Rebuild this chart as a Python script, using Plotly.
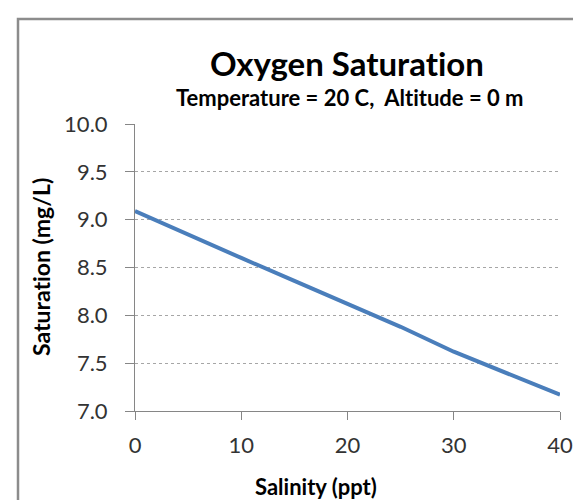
import plotly.graph_objects as go

salinity = [0, 5, 10, 15, 20, 25, 30, 35, 40]
saturation = [9.09, 8.84, 8.60, 8.36, 8.12, 7.88, 7.62, 7.40, 7.17]
y_ticks = [7.0, 7.5, 8.0, 8.5, 9.0, 9.5, 10.0]
x_ticks = [0, 10, 20, 30, 40]

FONT = "Lato"
GRAY = "#868686"


def nolig(s):
    return "<span style='font-variant-ligatures:none;font-feature-settings:\"liga\" 0'>" + s + "</span>"


fig = go.Figure()
fig.add_trace(go.Scatter(
    x=salinity, y=saturation, mode="lines",
    line=dict(color="#4a7ebb", width=4),
    hoverinfo="skip", showlegend=False,
))

W, H = 581, 500
L, R, T, B = 127, 29, 116, 97

fig.update_layout(
    width=W, height=H,
    margin=dict(l=L, r=R, t=T, b=B, autoexpand=False),
    paper_bgcolor="white", plot_bgcolor="white",
    font=dict(family=FONT, color="#000000"),
    xaxis=dict(
        range=[0, 40], tickvals=x_ticks, ticktext=[str(v) for v in x_ticks],
        showgrid=False, zeroline=False,
        showline=True, linecolor=GRAY, linewidth=1,
        ticks="outside", ticklen=8, tickcolor=GRAY, tickwidth=1,
        tickfont=dict(family=FONT, size=22, color="#333333"),
        ticklabelstandoff=7,
    ),
    yaxis=dict(
        range=[7, 10], tickvals=y_ticks, ticktext=[f"{v:.1f}" for v in y_ticks],
        showgrid=True, gridcolor="#a6a6a6", gridwidth=1, griddash="dot",
        zeroline=False,
        showline=True, linecolor=GRAY, linewidth=1,
        ticks="outside", ticklen=9, tickcolor=GRAY, tickwidth=1,
        tickfont=dict(family=FONT, size=22, color="#333333"),
        ticklabelstandoff=13,
    ),
)

# outer chart frame (cropped on right and bottom)
fig.add_shape(type="rect", xref="paper", yref="paper",
              x0=(10 - L) / (W - L - R), x1=(W + 20 - L) / (W - L - R),
              y0=(H - B - (H + 20)) / (H - T - B), y1=(H - B - 11) / (H - T - B),
              line=dict(color="#8c8c8c", width=2.5), fillcolor="rgba(0,0,0,0)",
              layer="above")


def px_x(px):
    return (px - L) / (W - L - R)


def px_y(py):
    return (H - B - py) / (H - T - B)


fig.add_annotation(text="<b>" + nolig("Oxygen Saturation") + "</b>", xref="paper", yref="paper",
                   x=px_x(339), y=px_y(55), xanchor="center", yanchor="middle",
                   showarrow=False, font=dict(family=FONT, size=33, color="#000000"))
fig.add_annotation(text="<b>" + nolig("Temperature = 20 C,  Altitude = 0 m") + "</b>", xref="paper", yref="paper",
                   x=px_x(342), y=px_y(89), xanchor="center", yanchor="middle",
                   showarrow=False, font=dict(family=FONT, size=22, color="#000000"))
fig.add_annotation(text="<b>Salinity (ppt)</b>", xref="paper", yref="paper",
                   x=px_x(308), y=px_y(478), xanchor="center", yanchor="middle",
                   showarrow=False, font=dict(family=FONT, size=22, color="#000000"))
fig.add_annotation(text="<b>" + nolig("Saturation (mg/L)") + "</b>", xref="paper", yref="paper",
                   x=px_x(33), y=px_y(259), xanchor="center", yanchor="middle",
                   textangle=-90,
                   showarrow=False, font=dict(family=FONT, size=23, color="#000000"))

fig.write_html("out.html")
